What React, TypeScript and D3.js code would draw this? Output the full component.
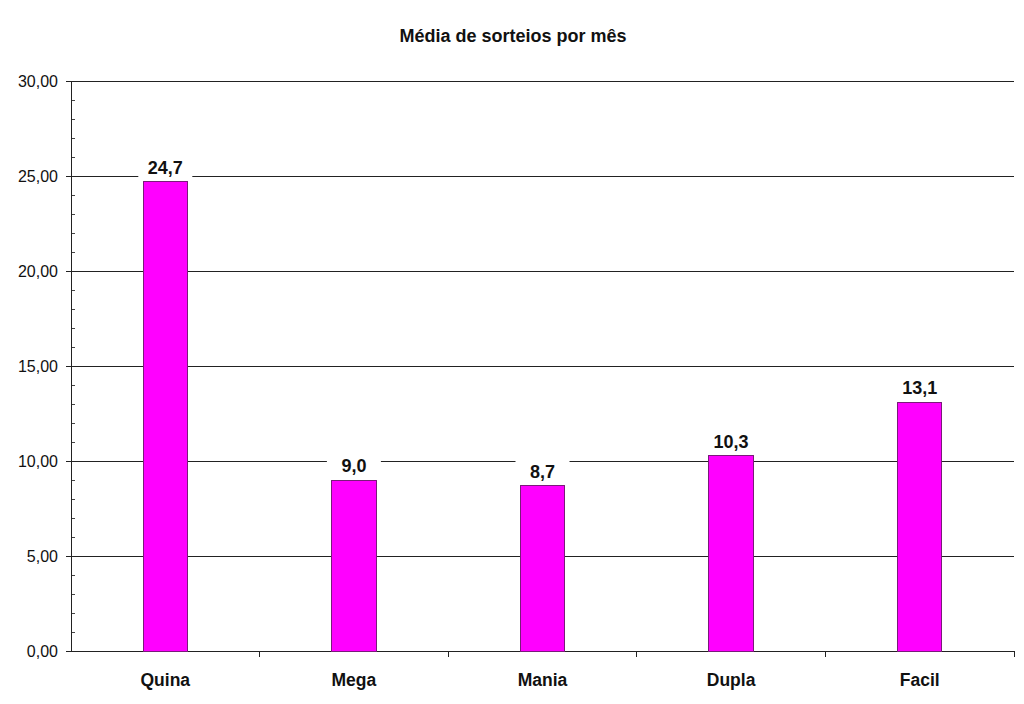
import React, { useEffect, useRef } from "react";
import * as d3 from "d3";

const categories = ["Quina", "Mega", "Mania", "Dupla", "Facil"];
const values = [24.7, 9.0, 8.7, 10.3, 13.1];
const yTicks = [0, 5, 10, 15, 20, 25, 30];
const minorTicks = d3.range(0, 31, 1);
const title = "Média de sorteios por mês";

const W = 1024, H = 704;
const M = { left: 71, right: 10, top: 81, bottom: 53 };

export default function App() {
  const ref = useRef<SVGSVGElement>(null);
  useEffect(() => {
    const svg = d3.select(ref.current);
    svg.selectAll("*").remove();
    const font = "'Liberation Sans', Arial, sans-serif";
    const x = d3.scaleBand().domain(categories).range([M.left, W - M.right]).paddingInner(0).paddingOuter(0);
    const y = d3.scaleLinear().domain([0, 30]).range([H - M.bottom, M.top]);
    const fmt = (v: number) => v.toFixed(2).replace(".", ",");

    svg.append("text").attr("x", 513).attr("y", 42).attr("text-anchor", "middle")
      .attr("font-family", font).attr("font-weight", "bold").attr("font-size", 18).attr("fill", "#111").text(title);

    // gridlines
    svg.append("g").selectAll("line").data(yTicks.filter(t => t > 0)).join("line")
      .attr("x1", M.left).attr("x2", W - M.right).attr("y1", d => y(d)).attr("y2", d => y(d))
      .attr("stroke", "#222").attr("stroke-width", 1).attr("shape-rendering", "crispEdges");

    // minor ticks
    svg.append("g").selectAll("line").data(minorTicks.filter(t => t % 5 !== 0)).join("line")
      .attr("x1", M.left).attr("x2", M.left + 4).attr("y1", d => y(d)).attr("y2", d => y(d))
      .attr("stroke", "#444").attr("shape-rendering", "crispEdges");
    // major ticks
    svg.append("g").selectAll("line").data(yTicks).join("line")
      .attr("x1", M.left - 5).attr("x2", M.left).attr("y1", d => y(d)).attr("y2", d => y(d))
      .attr("stroke", "#222").attr("shape-rendering", "crispEdges");
    svg.append("g").selectAll("text").data(yTicks).join("text")
      .attr("x", M.left - 13).attr("y", d => y(d)).attr("dy", "0.35em").attr("text-anchor", "end")
      .attr("font-family", font).attr("font-size", 16).attr("fill", "#111").text(d => fmt(d));

    // axes lines
    svg.append("line").attr("x1", M.left).attr("x2", M.left).attr("y1", y(30)).attr("y2", y(0))
      .attr("stroke", "#222").attr("shape-rendering", "crispEdges");
    svg.append("line").attr("x1", M.left).attr("x2", W - M.right).attr("y1", y(0)).attr("y2", y(0))
      .attr("stroke", "#222").attr("shape-rendering", "crispEdges");
    const bounds = categories.map(c => x(c)!).concat([x(categories[categories.length - 1])! + x.bandwidth()]);
    svg.append("g").selectAll("line").data(bounds.slice(1)).join("line")
      .attr("x1", d => d).attr("x2", d => d).attr("y1", y(0)).attr("y2", y(0) + 6)
      .attr("stroke", "#222").attr("shape-rendering", "crispEdges");

    const bw = x.bandwidth() * 0.235;
    const data = categories.map((c, i) => ({ c, v: values[i] }));
    svg.append("g").selectAll("rect").data(data).join("rect")
      .attr("x", d => x(d.c)! + x.bandwidth() / 2 - bw / 2).attr("width", bw)
      .attr("y", d => y(d.v)).attr("height", d => y(0) - y(d.v))
      .attr("fill", "#ff00ff").attr("stroke", "#7a1a7a").attr("stroke-width", 1).attr("shape-rendering", "crispEdges");

    const lab = svg.append("g").selectAll("g").data(data).join("g")
      .attr("transform", d => `translate(${x(d.c)! + x.bandwidth() / 2},${y(d.v) - 14})`);
    lab.append("rect").attr("x", -27).attr("y", -12).attr("width", 54).attr("height", 23).attr("fill", "#fff");
    lab.append("text").attr("text-anchor", "middle").attr("dy", "0.35em")
      .attr("font-family", font).attr("font-weight", "bold").attr("font-size", 18).attr("fill", "#111")
      .text(d => d.v.toFixed(1).replace(".", ","));

    svg.append("g").selectAll("text").data(categories).join("text")
      .attr("x", d => x(d)! + x.bandwidth() / 2).attr("y", y(0) + 35).attr("text-anchor", "middle")
      .attr("font-family", font).attr("font-weight", "bold").attr("font-size", 17.5).attr("fill", "#111").text(d => d);
  }, []);
  return (
    <svg ref={ref} width={W} height={H} style={{ position: "absolute", left: 0, top: 0, background: "#fff" }} />
  );
}
